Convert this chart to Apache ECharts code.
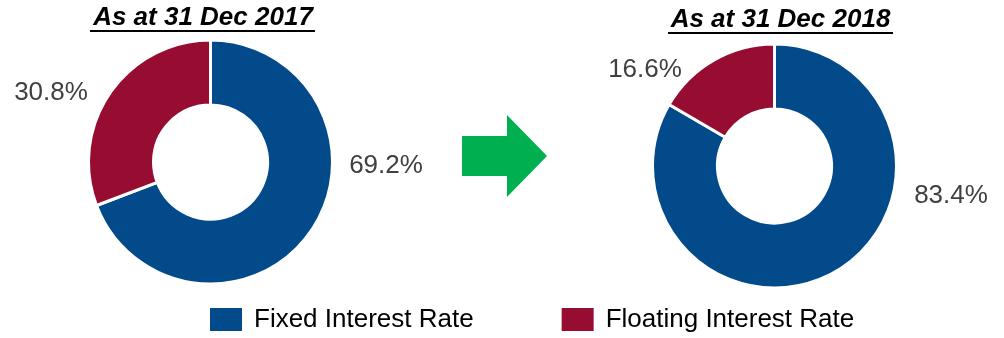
<!DOCTYPE html>
<html>
<head>
<meta charset="utf-8">
<style>
  html, body { margin: 0; padding: 0; background: #fff; }
  #chart { width: 1004px; height: 338px; }
</style>
<script src="https://cdn.jsdelivr.net/npm/echarts@6/dist/echarts.min.js"></script>
</head>
<body>
<div id="chart"></div>
<script>
// Debt mix by interest-rate type
const categories = ['Fixed Interest Rate', 'Floating Interest Rate'];
const periods = ['As at 31 Dec 2017', 'As at 31 Dec 2018'];
const share2017 = [69.2, 30.8];
const share2018 = [83.4, 16.6];

const colors = ['#024A8A', '#970C31'];
const labelColor = '#404040';
const font = 'Liberation Sans, Arial, sans-serif';

// label anchor points for each donut (Fixed, Floating)
const labelSpots = [
  [[386, 166], [51, 93]],
  [[951, 196], [645, 70]]
];

function donut(values, center, idx) {
  return {
    type: 'pie',
    center: center,
    radius: [57, 122],
    startAngle: 90,
    clockwise: true,
    silent: true,
    animation: false,
    avoidLabelOverlap: false,
    itemStyle: { borderColor: '#fff', borderWidth: 3 },
    label: {
      show: true,
      position: 'outside',
      overflow: 'none',
      width: 120,
      formatter: p => p.value.toFixed(1) + '%',
      color: labelColor,
      fontSize: 26,
      fontFamily: font
    },
    labelLine: { show: false },
    labelLayout: p => ({
      x: labelSpots[idx][p.dataIndex][0],
      y: labelSpots[idx][p.dataIndex][1],
      align: 'center',
      verticalAlign: 'middle'
    }),
    data: categories.map((c, i) => ({
      name: c, value: values[i], itemStyle: { color: colors[i] }
    }))
  };
}

const chart = echarts.init(document.getElementById('chart'), null, { renderer: 'canvas' });
chart.setOption({
  backgroundColor: '#fff',
  animation: false,
  color: colors,
  legend: {
    data: categories,
    left: 208,
    top: 306,
    padding: 0,
    itemWidth: 34,
    itemHeight: 25,
    itemGap: 86,
    icon: 'rect',
    selectedMode: false,
    textStyle: { fontSize: 26, fontFamily: font, color: '#000', padding: [0, 0, 0, 6] }
  },
  graphic: [
    { type: 'text', x: 203, y: 18, style: { text: periods[0], font: 'italic bold 26px ' + font, fill: '#000', align: 'center', verticalAlign: 'middle' } },
    { type: 'rect', shape: { x: 90, y: 30, width: 225, height: 2 }, style: { fill: '#000' } },
    { type: 'text', x: 780.5, y: 20, style: { text: periods[1], font: 'italic bold 26px ' + font, fill: '#000', align: 'center', verticalAlign: 'middle' } },
    { type: 'rect', shape: { x: 668, y: 32, width: 225, height: 2 }, style: { fill: '#000' } },
    { type: 'polygon', shape: { points: [[462, 136], [507, 136], [507, 115], [547, 156], [507, 197], [507, 176], [462, 176]] }, style: { fill: '#00B050' } }
  ],
  series: [
    donut(share2017, [210.5, 162], 0),
    donut(share2018, [774.5, 166], 1)
  ]
});
</script>
</body>
</html>
